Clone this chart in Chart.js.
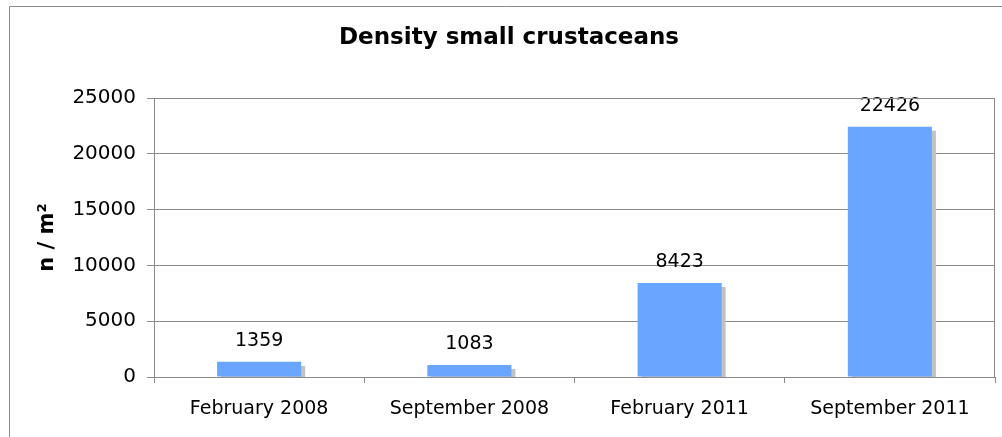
<!DOCTYPE html>
<html>
<head>
<meta charset="utf-8">
<script src="https://cdn.jsdelivr.net/npm/chart.js@4"></script>
<style>
  body { margin: 0; background: #fff; }
  #wrap { position: relative; width: 1002px; height: 437px; }
</style>
</head>
<body>
<div id="wrap"><canvas id="densityChart" width="1002" height="437"></canvas></div>
<script>
const categories = ['February 2008', 'September 2008', 'February 2011', 'September 2011'];
const density = [1359, 1083, 8423, 22426];
const yTicks = [0, 5000, 10000, 15000, 20000, 25000];
const chartTitle = 'Density small crustaceans';
const yTitle = 'n / m\u00B2';

Chart.defaults.font.family = "'DejaVu Sans', Verdana, sans-serif";
Chart.defaults.color = '#000';

const lineGray = '#8a8a8a';

// outer frame, chart title and plot frame
const framePlugin = {
    id: 'frame',
    beforeDraw(chart) {
        const c = chart.ctx;
        c.save();
        c.strokeStyle = '#8a8a8a';
        c.lineWidth = 1;
        c.beginPath();
        c.moveTo(9.5, chart.height);
        c.lineTo(9.5, 6.5);
        c.lineTo(chart.width, 6.5);
        c.stroke();
        c.font = "bold 23px 'DejaVu Sans'";
        c.fillStyle = '#000';
        c.textAlign = 'center';
        c.textBaseline = 'middle';
        c.fillText(chartTitle, 509, 38);
        c.restore();
    },
    afterDraw(chart) {
        const a = chart.chartArea;
        const c = chart.ctx;
        c.save();
        c.strokeStyle = lineGray;
        c.lineWidth = 1;
        c.strokeRect(Math.round(a.left) + 0.5, Math.round(a.top) + 0.5,
            Math.round(a.right - a.left) - 1, Math.round(a.bottom - a.top));
        c.restore();
    }
};

// gray drop shadow behind each bar, value labels above
const shadowPlugin = {
    id: 'barShadow',
    beforeDatasetsDraw(chart) {
        const c = chart.ctx;
        const a = chart.chartArea;
        c.save();
        c.beginPath();
        c.rect(a.left, a.top, a.right - a.left, a.bottom - a.top);
        c.clip();
        c.fillStyle = '#c2c2c2';
        chart.getDatasetMeta(0).data.forEach(bar => {
            const w = bar.width;
            c.fillRect(bar.x - w / 2 + 4, bar.y + 4, w, bar.base - bar.y);
        });
        c.restore();
    },
    afterDatasetsDraw(chart) {
        const c = chart.ctx;
        c.save();
        c.font = "19px 'DejaVu Sans'";
        c.fillStyle = '#000';
        c.textAlign = 'center';
        c.textBaseline = 'middle';
        chart.getDatasetMeta(0).data.forEach((bar, i) => {
            c.fillText(String(density[i]), bar.x, bar.y - 21);
        });
        c.restore();
    }
};

const ctx = document.getElementById('densityChart').getContext('2d');
const densityChart = new Chart(ctx, {
    type: 'bar',
    data: {
        labels: categories,
        datasets: [{
            label: 'Density',
            data: density,
            backgroundColor: '#6aa6ff',
            borderWidth: 0,
            categoryPercentage: 1,
            barPercentage: 0.4
        }]
    },
    options: {
        responsive: false,
        animation: false,
        layout: { padding: { left: 0, top: 98, right: 7, bottom: 0 } },
        plugins: {
            legend: { display: false },
            title: { display: false },
            tooltip: { enabled: false }
        },
        scales: {
            x: {
                grid: {
                    offset: true,
                    drawOnChartArea: false,
                    color: lineGray,
                    tickLength: 6
                },
                border: { color: lineGray },
                ticks: { font: { size: 19 }, padding: 15, maxRotation: 0 },
                afterFit(scale) { scale.height = 60; }
            },
            y: {
                min: 0,
                max: 25000,
                afterBuildTicks(scale) { scale.ticks = yTicks.map(v => ({ value: v })); },
                grid: { color: lineGray, tickLength: 7 },
                border: { color: lineGray },
                ticks: {
                    font: { size: 20 },
                    padding: 11,
                    callback: v => String(v)
                },
                title: {
                    display: true,
                    text: yTitle,
                    font: { size: 21, weight: 'bold' },
                    padding: { top: 35, bottom: 0 }
                },
                afterFit(scale) { scale.width = 154; }
            }
        }
    },
    plugins: [framePlugin, shadowPlugin]
});
</script>
</body>
</html>
